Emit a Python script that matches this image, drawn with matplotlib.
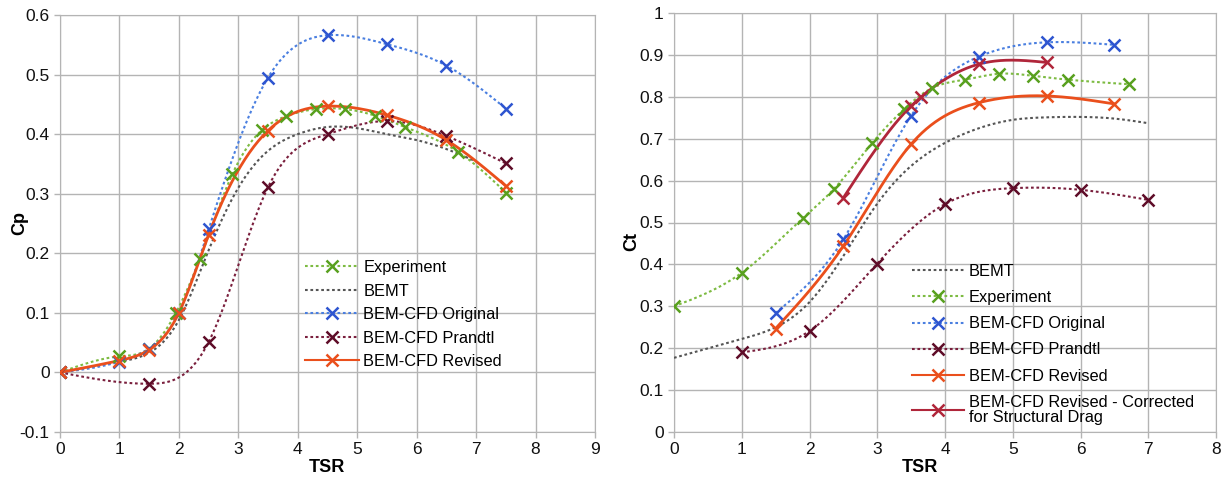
import numpy as np
import matplotlib.pyplot as plt
from matplotlib.lines import Line2D

plt.rcParams['font.family'] = ['Liberation Sans', 'DejaVu Sans']

# ---- Power coefficient (Cp) vs TSR ----
cp_exp_x = [0, 1.0, 1.5, 1.95, 2.35, 2.9, 3.4, 3.8, 4.3, 4.8, 5.3, 5.8, 6.7, 7.5]
cp_exp_y = [0, 0.027, 0.04, 0.1, 0.19, 0.333, 0.407, 0.43, 0.442, 0.442, 0.431, 0.412, 0.37, 0.302]

cp_bemt_x = [0, 1.0, 1.5, 2.0, 2.5, 3.0, 3.5, 4.0, 4.5, 5.0, 5.5, 6.0, 6.5, 7.0]
cp_bemt_y = [0, 0.018, 0.033, 0.088, 0.205, 0.31, 0.372, 0.4, 0.412, 0.41, 0.4, 0.39, 0.375, 0.354]

cp_orig_x = [0, 1.0, 1.5, 2.0, 2.5, 3.5, 4.5, 5.5, 6.5, 7.5]
cp_orig_y = [0, 0.018, 0.04, 0.1, 0.24, 0.495, 0.566, 0.551, 0.515, 0.443]

cp_prandtl_x = [0, 1.5, 2.5, 3.5, 4.5, 5.5, 6.5, 7.5]
cp_prandtl_y = [0, -0.019, 0.051, 0.311, 0.40, 0.422, 0.397, 0.351]

cp_rev_x = [0, 1.0, 1.5, 2.0, 2.5, 3.5, 4.5, 5.5, 6.5, 7.5]
cp_rev_y = [0, 0.02, 0.038, 0.1, 0.231, 0.406, 0.447, 0.432, 0.39, 0.313]

# ---- Thrust coefficient (Ct) vs TSR ----
ct_bemt_x = [0, 1.0, 1.5, 2.0, 2.5, 3.0, 3.5, 4.0, 4.5, 5.0, 5.5, 6.0, 6.5, 7.0]
ct_bemt_y = [0.177, 0.222, 0.25, 0.31, 0.42, 0.545, 0.635, 0.69, 0.725, 0.745, 0.751, 0.752, 0.748, 0.737]

ct_exp_x = [0, 1.0, 1.9, 2.36, 2.92, 3.4, 3.81, 4.3, 4.8, 5.3, 5.81, 6.71]
ct_exp_y = [0.30, 0.38, 0.51, 0.58, 0.689, 0.771, 0.821, 0.841, 0.855, 0.85, 0.841, 0.83]

ct_orig_x = [1.5, 2.5, 3.5, 4.5, 5.5, 6.5]
ct_orig_y = [0.284, 0.46, 0.755, 0.896, 0.93, 0.924]

ct_prandtl_x = [1.0, 2.0, 3.0, 4.0, 5.0, 6.0, 7.0]
ct_prandtl_y = [0.19, 0.241, 0.402, 0.544, 0.582, 0.578, 0.554]

ct_rev_x = [1.5, 2.5, 3.5, 4.5, 5.5, 6.5]
ct_rev_y = [0.247, 0.444, 0.687, 0.786, 0.802, 0.783]

ct_corr_x = [2.5, 3.5, 3.65, 4.5, 5.5]
ct_corr_y = [0.559, 0.778, 0.800, 0.878, 0.882]

GREEN, GREEN_M = '#7dbb42', '#58a01e'
GRAY = '#555555'
BLUE, BLUE_M = '#4a7fe0', '#2e55d0'
MAROON, MAROON_M = '#7a1f3d', '#5e0c28'
RED = '#ea4f1c'
DARKRED = '#b0263a'
DOT = (0, (1.3, 1.3))


def spline(x, y, n=300):
    """Natural cubic spline through the points, for smooth line drawing."""
    x = np.asarray(x, float)
    y = np.asarray(y, float)
    k = len(x)
    h = np.diff(x)
    A = np.zeros((k, k))
    r = np.zeros(k)
    A[0, 0] = A[-1, -1] = 1
    for i in range(1, k - 1):
        A[i, i - 1] = h[i - 1]
        A[i, i] = 2 * (h[i - 1] + h[i])
        A[i, i + 1] = h[i]
        r[i] = 3 * ((y[i + 1] - y[i]) / h[i] - (y[i] - y[i - 1]) / h[i - 1])
    c = np.linalg.solve(A, r)
    xs = np.linspace(x[0], x[-1], n)
    idx = np.clip(np.searchsorted(x, xs) - 1, 0, k - 2)
    dx = xs - x[idx]
    hi = h[idx]
    b = (y[idx + 1] - y[idx]) / hi - hi * (2 * c[idx] + c[idx + 1]) / 3
    d = (c[idx + 1] - c[idx]) / (3 * hi)
    ys = y[idx] + b * dx + c[idx] * dx ** 2 + d * dx ** 3
    return xs, ys


def series(ax, x, y, color, mcolor, ls, marker=True, lw=1.5):
    xs, ys = spline(x, y)
    ax.plot(xs, ys, color=color, ls=ls, lw=lw, zorder=3)
    if marker:
        ax.plot(x, y, ls='none', marker='x', ms=8, mew=1.8, color=mcolor, zorder=4)


def handle(color, mcolor, ls, marker=True):
    return Line2D([], [], color=color, ls=ls, lw=1.5,
                  marker='x' if marker else None, ms=8, mew=1.8,
                  markeredgecolor=mcolor)


def style(ax, ylim, yticks, xlim, xticks):
    ax.set_xlim(*xlim)
    ax.set_ylim(*ylim)
    ax.set_xticks(xticks)
    ax.set_yticks(yticks)
    ax.grid(True, color='#b4b4b4', lw=1.0)
    ax.set_axisbelow(True)
    for s in ax.spines.values():
        s.set_color('#b4b4b4')
    ax.tick_params(colors='#b4b4b4', labelcolor='#111111', labelsize=12.5, length=4, width=1)


fig = plt.figure(figsize=(12.26, 4.79), dpi=100)
W, H = 1226, 479

ax1 = fig.add_axes([60 / W, 1 - 432 / H, 535 / W, 417 / H])
series(ax1, cp_exp_x, cp_exp_y, GREEN, GREEN_M, DOT)
series(ax1, cp_bemt_x, cp_bemt_y, GRAY, GRAY, DOT, marker=False)
series(ax1, cp_orig_x, cp_orig_y, BLUE, BLUE_M, DOT)
series(ax1, cp_prandtl_x, cp_prandtl_y, MAROON, MAROON_M, DOT)
series(ax1, cp_rev_x, cp_rev_y, RED, RED, '-', lw=2)
style(ax1, (-0.1, 0.6), np.round(np.arange(-0.1, 0.61, 0.1), 1), (0, 9), range(0, 10))
ax1.set_yticklabels(['-0.1', '0', '0.1', '0.2', '0.3', '0.4', '0.5', '0.6'])
fig.text(20 / W, 1 - 223 / H, 'Cp', rotation=90, fontsize=13, fontweight='bold',
         ha='center', va='center')
fig.text(327 / W, 1 - 467 / H, 'TSR', fontsize=13, fontweight='bold', ha='center', va='center')

leg1 = ax1.legend([handle(GREEN, GREEN_M, DOT), handle(GRAY, GRAY, DOT, False),
                   handle(BLUE, BLUE_M, DOT), handle(MAROON, MAROON_M, DOT),
                   handle(RED, RED, '-')],
                  ['Experiment', 'BEMT', 'BEM-CFD Original', 'BEM-CFD Prandtl', 'BEM-CFD Revised'],
                  loc='upper left', bbox_to_anchor=(305 / W, 1 - 260 / H),
                  bbox_transform=fig.transFigure, frameon=False, fontsize=11.8,
                  handlelength=3.3, handletextpad=0.25, labelspacing=0.52,
                  borderaxespad=0, borderpad=0)

ax2 = fig.add_axes([674 / W, 1 - 432 / H, 542 / W, 419 / H])
series(ax2, ct_bemt_x, ct_bemt_y, GRAY, GRAY, DOT, marker=False)
series(ax2, ct_exp_x, ct_exp_y, GREEN, GREEN_M, DOT)
series(ax2, ct_orig_x, ct_orig_y, BLUE, BLUE_M, DOT)
series(ax2, ct_prandtl_x, ct_prandtl_y, MAROON, MAROON_M, DOT)
series(ax2, ct_rev_x, ct_rev_y, RED, RED, '-', lw=2)
series(ax2, ct_corr_x, ct_corr_y, DARKRED, DARKRED, '-', lw=2)
style(ax2, (0, 1), np.round(np.arange(0, 1.01, 0.1), 1), (0, 8), range(0, 9))
ax2.set_yticklabels(['0', '0.1', '0.2', '0.3', '0.4', '0.5', '0.6', '0.7', '0.8', '0.9', '1'])
fig.text(632 / W, 1 - 242 / H, 'Ct', rotation=90, fontsize=13, fontweight='bold',
         ha='center', va='center')
fig.text(920 / W, 1 - 467 / H, 'TSR', fontsize=13, fontweight='bold', ha='center', va='center')

leg2 = ax2.legend([handle(GRAY, GRAY, DOT, False), handle(GREEN, GREEN_M, DOT),
                   handle(BLUE, BLUE_M, DOT), handle(MAROON, MAROON_M, DOT),
                   handle(RED, RED, '-'), handle(DARKRED, DARKRED, '-')],
                  ['BEMT', 'Experiment', 'BEM-CFD Original', 'BEM-CFD Prandtl',
                   'BEM-CFD Revised', 'BEM-CFD Revised - Corrected\nfor Structural Drag'],
                  loc='upper left', bbox_to_anchor=(912 / W, 1 - 264 / H),
                  bbox_transform=fig.transFigure, frameon=False, fontsize=11.8,
                  handlelength=3.2, handletextpad=0.25, labelspacing=0.68,
                  borderaxespad=0, borderpad=0)
leg2.get_texts()[-1].set_linespacing(1.05)

fig.savefig('out.png', dpi=100, facecolor='white')
